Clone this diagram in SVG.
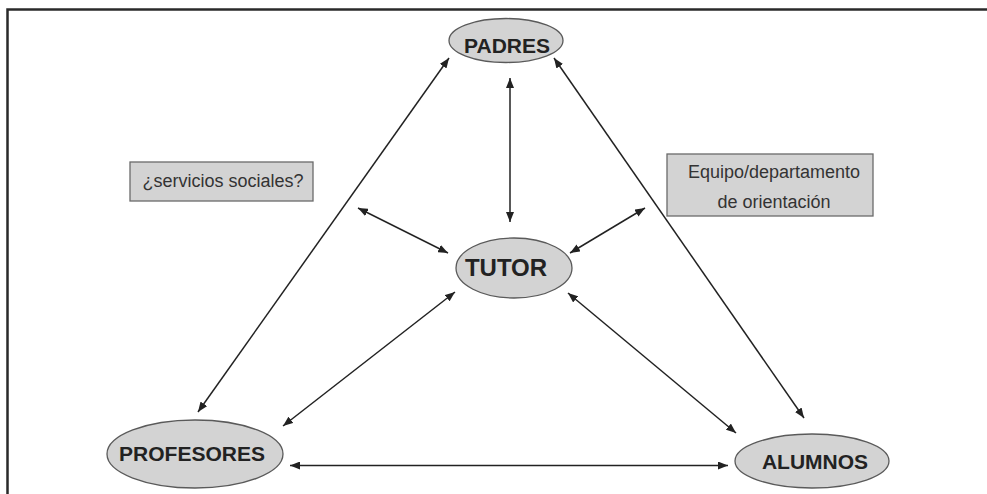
<svg xmlns="http://www.w3.org/2000/svg" width="987" height="494" viewBox="0 0 987 494">
<style>
.node{fill:#d3d3d3;stroke:#5a5a5a;stroke-width:1.3}
.box{fill:#d3d3d3;stroke:#6a6a6a;stroke-width:1.3}
.lbl{font-family:"Liberation Sans",Arial,sans-serif;font-weight:bold;fill:#222;text-anchor:middle}
.txt{font-family:"Liberation Sans",Arial,sans-serif;fill:#333;font-size:18px;text-anchor:middle}
.conn line{stroke:#222;stroke-width:1.5;marker-start:url(#ah);marker-end:url(#ah)}
.frame{stroke:#2a2a2a;stroke-width:2.5;fill:none}
</style>
<defs>
<marker id="ah" viewBox="0 0 10 8" refX="10" refY="4" markerWidth="10" markerHeight="8" markerUnits="userSpaceOnUse" orient="auto-start-reverse">
<path d="M0,0 L10,4 L0,8 Z" fill="#222"/>
</marker>
</defs>
<rect width="987" height="494" fill="#fff"/>
<path class="frame" d="M7.5,494 V9.5 H987"/>
<g class="conn">
<line x1="510" y1="222" x2="510" y2="78"/>
<line x1="198" y1="412" x2="449" y2="58"/>
<line x1="804" y1="418" x2="554" y2="58"/>
<line x1="358" y1="208" x2="448" y2="253"/>
<line x1="645" y1="208" x2="570" y2="253"/>
<line x1="283" y1="426" x2="455" y2="292"/>
<line x1="736" y1="433" x2="568" y2="293"/>
<line x1="290" y1="465.5" x2="728" y2="465.5"/>
</g>
<g id="padres"><ellipse class="node" cx="506" cy="40.5" rx="57" ry="22"/><text class="lbl" x="507" y="53" font-size="21">PADRES</text></g>
<g id="tutor"><ellipse class="node" cx="514" cy="268" rx="58" ry="30"/><text class="lbl" x="506" y="276" font-size="24">TUTOR</text></g>
<g id="profesores"><ellipse class="node" cx="195" cy="454" rx="88" ry="34"/><text class="lbl" x="192" y="461" font-size="21">PROFESORES</text></g>
<g id="alumnos"><ellipse class="node" cx="812" cy="461" rx="77" ry="27"/><text class="lbl" x="815" y="469" font-size="21">ALUMNOS</text></g>
<g id="servicios"><rect class="box" x="130" y="162" width="183" height="39"/><text class="txt" x="223" y="187">¿servicios sociales?</text></g>
<g id="equipo"><rect class="box" x="667" y="154" width="206" height="62"/><text class="txt" x="774" y="178">Equipo/departamento</text><text class="txt" x="774" y="208">de orientación</text></g>
</svg>
